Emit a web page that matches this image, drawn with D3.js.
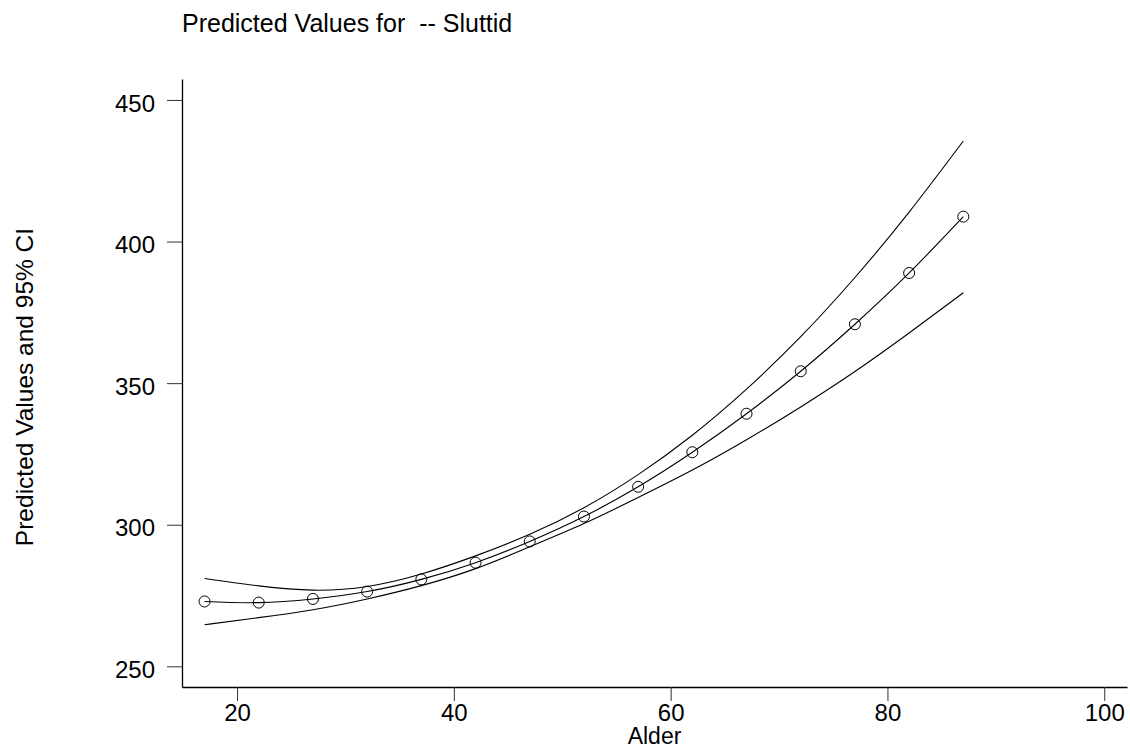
<!DOCTYPE html>
<html lang="en">
<head>
    <meta charset="UTF-8">
    <title>Predicted Values for -- Sluttid</title>
    <script src="https://d3js.org/d3.v7.min.js"></script>
    <style>
        body {
            margin: 0;
            background-color: #ffffff;
        }
        svg {
            display: block;
            font-family: 'Liberation Sans', Arial, sans-serif;
        }
    </style>
</head>
<body>
    <div id="chart"></div>
    <script>
        // Data
        const alder = [17, 22, 27, 32, 37, 42, 47, 52, 57, 62, 67, 72, 77, 82, 87];
        const predicted = [272.9, 272.5, 273.8, 276.4, 280.7, 286.6, 294.1, 302.9, 313.4, 325.6, 339.2, 354.2, 370.8, 388.9, 408.8];
        const upperCI = [281.0, 278.4, 276.9, 278.2, 282.6, 289.0, 296.6, 306.0, 317.7, 331.6, 347.9, 366.4, 387.3, 410.4, 435.5];
        const lowerCI = [264.7, 267.2, 270.0, 273.8, 278.5, 284.5, 292.2, 300.4, 309.6, 319.3, 330.0, 341.6, 354.1, 367.7, 381.9];
        const xTicks = [20, 40, 60, 80, 100];
        const yTicks = [250, 300, 350, 400, 450];

        const width = 1130, height = 749;
        const plotLeft = 182, plotRight = 1127, plotTop = 79, plotBottom = 687;

        const svg = d3.select("#chart").append("svg")
            .attr("width", width).attr("height", height);

        const x = d3.scaleLinear().domain([14.92, 102.1]).range([plotLeft, plotRight]);
        const y = d3.scaleLinear().domain([242.7, 457.4]).range([plotBottom, plotTop]);

        // Axes
        const xAxis = svg.append("g")
            .attr("transform", `translate(0,${plotBottom})`)
            .call(d3.axisBottom(x).tickValues(xTicks).tickSize(14).tickPadding(3).tickSizeOuter(0));
        const yAxis = svg.append("g")
            .attr("transform", `translate(${plotLeft},0)`)
            .call(d3.axisLeft(y).tickValues(yTicks).tickSize(15).tickPadding(12).tickSizeOuter(0));

        [xAxis, yAxis].forEach(g => {
            g.select(".domain").attr("stroke", "#000").attr("stroke-width", 1.3);
            g.selectAll(".tick line").attr("stroke", "#333").attr("stroke-width", 1);
            g.selectAll(".tick text").attr("fill", "#000").style("font-size", "24px");
        });
        yAxis.selectAll(".tick text").attr("dy", "0.46em");

        // Lines
        const line = d3.line()
            .x((d, i) => x(alder[i]))
            .y(d => y(d))
            .curve(d3.curveNatural);

        [upperCI, predicted, lowerCI].forEach(series => {
            svg.append("path")
                .datum(series)
                .attr("d", line)
                .attr("fill", "none")
                .attr("stroke", "#000")
                .attr("stroke-width", 1.1);
        });

        // Markers
        svg.selectAll("circle.pt")
            .data(predicted)
            .enter().append("circle")
            .attr("class", "pt")
            .attr("cx", (d, i) => x(alder[i]))
            .attr("cy", d => y(d))
            .attr("r", 5.5)
            .attr("fill", "none")
            .attr("stroke", "#000")
            .attr("stroke-width", 1);

        // Titles
        svg.append("text")
            .attr("x", 182).attr("y", 32)
            .style("font-size", "25px")
            .attr("xml:space", "preserve")
            .text("Predicted Values for  -- Sluttid");

        svg.append("text")
            .attr("x", (plotLeft + plotRight) / 2).attr("y", 744)
            .attr("text-anchor", "middle")
            .style("font-size", "23px")
            .text("Alder");

        svg.append("text")
            .attr("transform", `translate(33,387) rotate(-90)`)
            .attr("text-anchor", "middle")
            .style("font-size", "24.5px")
            .text("Predicted Values and 95% CI");
    </script>
</body>
</html>
